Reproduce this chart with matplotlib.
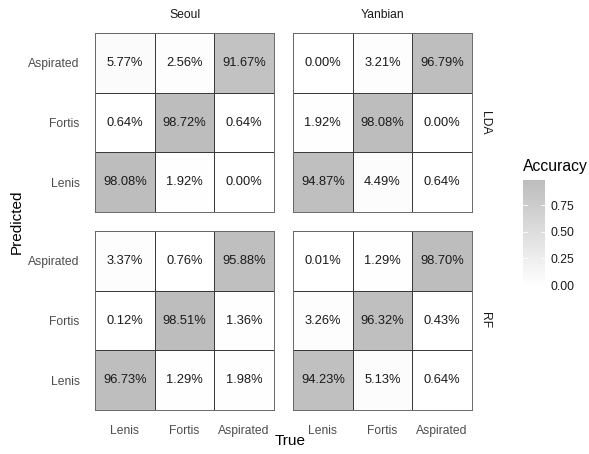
import matplotlib
matplotlib.use("Agg")
import matplotlib.pyplot as plt
import numpy as np
from matplotlib.colors import LinearSegmentedColormap

plt.rcParams['font.family'] = ['Liberation Sans', 'DejaVu Sans']

classes = ["Lenis", "Fortis", "Aspirated"]
dialects = ["Seoul", "Yanbian"]
models = ["LDA", "RF"]

# rows: Predicted (Lenis, Fortis, Aspirated); columns: True (Lenis, Fortis, Aspirated)
seoul_lda = [[98.08, 1.92, 0.00],
             [0.64, 98.72, 0.64],
             [5.77, 2.56, 91.67]]
yanbian_lda = [[94.87, 4.49, 0.64],
               [1.92, 98.08, 0.00],
               [0.00, 3.21, 96.79]]
seoul_rf = [[96.73, 1.29, 1.98],
            [0.12, 98.51, 1.36],
            [3.37, 0.76, 95.88]]
yanbian_rf = [[94.23, 5.13, 0.64],
              [3.26, 96.32, 0.43],
              [0.01, 1.29, 98.70]]

panels = {("LDA", "Seoul"): seoul_lda, ("LDA", "Yanbian"): yanbian_lda,
          ("RF", "Seoul"): seoul_rf, ("RF", "Yanbian"): yanbian_rf}

W, H = 589, 454
fig = plt.figure(figsize=(W / 100, H / 100), dpi=100)

cmap = LinearSegmentedColormap.from_list("g", ["#ffffff", "#bdbdbd"])
vmax = 98.72

def px_axes(x0, y0, x1, y1):
    return fig.add_axes([x0 / W, 1 - y1 / H, (x1 - x0) / W, (y1 - y0) / H])

lefts = {"Seoul": (95, 274), "Yanbian": (293, 472)}
tops = {"LDA": (33, 212), "RF": (231, 410)}

for (m, d), mat in panels.items():
    x0, x1 = lefts[d]
    y0, y1 = tops[m]
    ax = px_axes(x0, y0, x1, y1)
    arr = np.array(mat)
    ax.pcolormesh(np.arange(4), np.arange(4), arr, cmap=cmap, vmin=0, vmax=vmax,
                  edgecolors="#3a3a3a", linewidth=0.6)
    for i in range(3):
        for j in range(3):
            ax.text(j + 0.5, i + 0.5, f"{arr[i, j]:.2f}%", ha="center", va="center",
                    fontsize=9.3, color="#1a1a1a")
    ax.set_xlim(0, 3)
    ax.set_ylim(0, 3)
    for s in ax.spines.values():
        s.set_color("#6a6a6a")
        s.set_linewidth(0.7)
    ax.tick_params(length=0, colors="#4d4d4d", labelsize=8.7, pad=11)
    ax.set_xticks(np.arange(3) + 0.5)
    ax.set_yticks(np.arange(3) + 0.5)
    if m == "RF":
        ax.set_xticklabels(classes)
    else:
        ax.set_xticklabels([])
    if d == "Seoul":
        ax.set_yticklabels(classes)
    else:
        ax.set_yticklabels([])
    if m == "LDA":
        ax.set_title(d, fontsize=8.7, color="#1a1a1a", pad=11)
    if d == "Yanbian":
        ax.text(1.075, 0.5, m, transform=ax.transAxes, rotation=-90, ha="center",
                va="center", fontsize=8.7, color="#1a1a1a")

fig.text(290 / W, 1 - 441 / H, "True", ha="center", va="center", fontsize=11)
fig.text(17 / W, 1 - 222 / H, "Predicted", ha="center", va="center", rotation=90, fontsize=11)

# colorbar
cax = px_axes(523, 180, 545, 285)
grad = np.linspace(0, vmax / 100, 200).reshape(-1, 1)
cax.imshow(grad, aspect="auto", cmap=cmap, vmin=0, vmax=vmax / 100, origin="lower",
           extent=[0, 1, 0, vmax / 100])
cax.set_xlim(0, 1)
cax.set_ylim(0, vmax / 100)
for s in cax.spines.values():
    s.set_visible(False)
cax.set_xticks([])
cbt = [0.0, 0.25, 0.5, 0.75]
cax.set_yticks(cbt)
cax.yaxis.tick_right()
cax.set_yticklabels([f"{t:.2f}" for t in cbt])
cax.tick_params(axis="y", length=0, labelsize=8.7, colors="#1a1a1a", pad=4)
for t in cbt:
    cax.plot([0, 0.2], [t, t], color="white", lw=0.6)
    cax.plot([0.8, 1], [t, t], color="white", lw=0.6)
fig.text(523 / W, 1 - 166 / H, "Accuracy", ha="left", va="center", fontsize=11.3)

fig.savefig("out.png", dpi=100)
